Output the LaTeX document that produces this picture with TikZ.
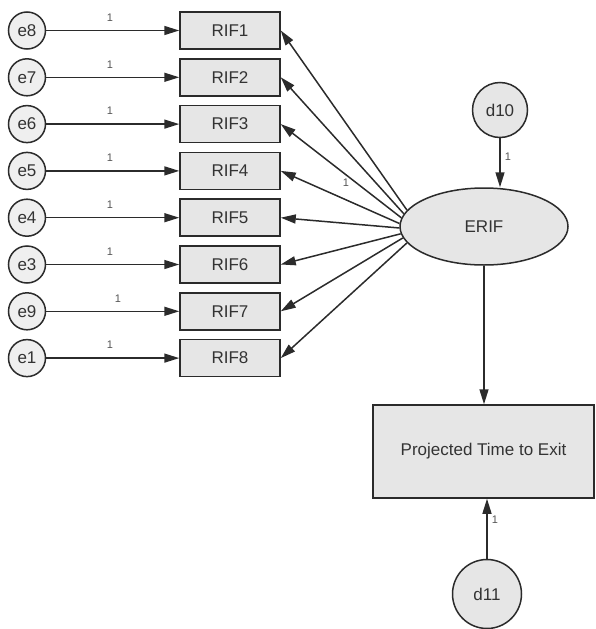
\documentclass[tikz,border=0pt]{standalone}
\usepackage{fontspec}
\setmainfont{Liberation Sans}
\usetikzlibrary{arrows.meta,shapes.geometric}
\definecolor{linec}{HTML}{2B2B2B}
\definecolor{boxfill}{HTML}{E6E6E6}
\definecolor{errfill}{HTML}{EFEFEF}
\definecolor{textc}{HTML}{333333}
\definecolor{lblc}{HTML}{555555}
\begin{document}
\begin{tikzpicture}[x=1pt,y=-1pt,
  obsbox/.style={draw=linec, fill=boxfill, line width=1.5pt, minimum width=100pt,
    minimum height=37pt, inner sep=0pt, text=textc, font=\fontsize{17}{20}\selectfont},
  errnode/.style={circle, draw=linec, fill=errfill, line width=1.5pt, minimum size=37pt,
    inner sep=0pt, text=textc, font=\fontsize{17}{20}\selectfont},
  distnode/.style={circle, draw=linec, fill=boxfill, line width=1.5pt, inner sep=0pt,
    text=textc, font=\fontsize{17}{20}\selectfont},
  latent/.style={ellipse, draw=linec, fill=boxfill, line width=1.5pt, minimum width=168pt,
    minimum height=77pt, inner sep=0pt, text=textc, font=\fontsize{17}{20}\selectfont},
  regpath/.style={draw=linec, line width=1.5pt, -{Triangle[length=15pt,width=9pt]}},
  wlabel/.style={text=lblc, inner sep=1pt, font=\fontsize{11}{12}\selectfont}]
\useasboundingbox (0,0) rectangle (595,629);

% latent factor, its disturbance and the outcome
\node[latent] (erif) at (484,226.5) {ERIF};
\node[distnode, minimum size=55pt] (d10) at (500,110) {d10};
\node[obsbox, minimum width=221pt, minimum height=93pt] (pte) at (483.5,451.5) {Projected Time to Exit};
\node[distnode, minimum size=69pt] (d11) at (487,594) {d11};

\draw[regpath] (d10) -- (d10 |- erif.north);
\node[wlabel] (l10) at (508,157) {1};
\draw[regpath] (erif) -- (erif.south |- pte.north);
\draw[regpath] (d11) -- (d11 |- pte.south);
\node[wlabel] (l11) at (495,520) {1};

% indicators with their error terms; loadings fan out from the left of ERIF
\foreach \i/\e/\lx in {1/e8/110, 2/e7/110, 3/e6/110, 4/e5/110, 5/e4/110, 6/e3/110, 7/e9/118, 8/e1/110}{
  \pgfmathsetmacro{\yy}{30.5+46.8*(\i-1)}
  \pgfmathsetmacro{\ang}{168+24*(\i-1)/7}
  \node[errnode] (e\i) at (27,\yy) {\e};
  \node[obsbox] (r\i) at (230,\yy) {RIF\i};
  \draw[regpath] (e\i) -- (r\i);
  \node[wlabel] (w\i) at (\lx,\yy-13) {1};
  \draw[regpath] (erif.\ang) -- (r\i.east);
}
\node[wlabel] (lf) at (346,183) {1};
\end{tikzpicture}
\end{document}
